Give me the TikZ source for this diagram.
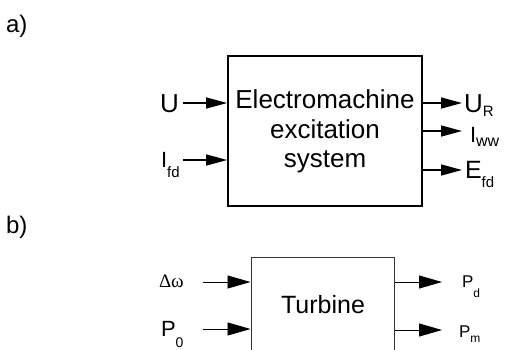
\documentclass[tikz,border=0pt]{standalone}
\usepackage{fontspec}
\setmainfont{Liberation Sans}
\newfontfamily\grfont{Liberation Serif}
\usetikzlibrary{arrows.meta}
\newcommand\lsub[3]{\raisebox{-#1pt}{\fontsize{#2}{#2}\selectfont #3}}
\newcommand\fs[1]{\fontsize{#1}{#1}\selectfont}
\tikzset{
  lbl/.style={anchor=base west, inner sep=0pt, outer sep=0pt},
  ctext/.style={anchor=base, inner sep=0pt, font=\fs{26}},
  boxa/.style={draw=black, line width=1.8pt, inner sep=0pt},
  boxb/.style={draw=black!80, line width=1pt, inner sep=0pt},
  arra/.style={line width=1.4pt, -{Triangle[length=21pt,width=11pt]}},
  arrb/.style={line width=0.9pt, -{Triangle[length=23pt,width=13pt]}},
}
\begin{document}
\begin{tikzpicture}[x=1pt,y=-1pt]
\useasboundingbox (0,0) rectangle (506,349);
\clip (0,0) rectangle (506,349);
% labels a) b)
\node[lbl, font=\fs{24}] (la) at (6,32) {a)};
\node[lbl, font=\fs{24}] (lb) at (6,233) {b)};
% box a
\node[boxa, minimum width=194pt, minimum height=150pt] (A) at (325,131) {};
\node[ctext] (t1) at (325,108) {Electromachine};
\node[ctext] (t2) at (325,138) {excitation};
\node[ctext] (t3) at (325,167) {system};
% inputs a
\node[lbl, font=\fs{26}] (U) at (160,112) {U};
\node[lbl, font=\fs{22}] (Ifd) at (161,167) {I\lsub{10}{15}{fd}};
\coordinate (uS) at (183,103);
\coordinate (iS) at (183,160);
\draw[arra] (uS) -- (A.west |- uS);
\draw[arra] (iS) -- (A.west |- iS);
% outputs a
\coordinate (urE) at (462,103);
\coordinate (iwE) at (462,131);
\coordinate (efE) at (462,170);
\draw[arra] (A.east |- urE) -- (urE);
\draw[arra] (A.east |- iwE) -- (iwE);
\draw[arra] (A.east |- efE) -- (efE);
\node[lbl, font=\fs{26}] (UR) at (464,112) {U\lsub{4}{15}{R}};
\node[lbl, font=\fs{22}] (Iww) at (470,142) {I\lsub{4}{16}{ww}};
\node[lbl, font=\fs{25}] (Efd) at (465,178) {E\lsub{9}{15}{fd}};
% box b
\node[boxb, minimum width=143pt, minimum height=145pt] (B) at (322.5,330) {};
\node[ctext, font=\fs{25}] (tb) at (323,313) {Turbine};
% inputs b
\node[lbl, font=\grfont\fs{19}] (dw) at (159,287) {Δω};
\node[lbl, font=\fs{22}] (P0) at (161,336) {P\lsub{11}{14}{0}};
\coordinate (dwS) at (203,282);
\coordinate (p0S) at (203,329);
\draw[arrb] (dwS) -- (B.west |- dwS);
\draw[arrb] (p0S) -- (B.west |- p0S);
% outputs b
\coordinate (pdE) at (442,282);
\coordinate (pmE) at (442,330);
\draw[arrb] (B.east |- pdE) -- (pdE);
\draw[arrb] (B.east |- pmE) -- (pmE);
\node[lbl, font=\fs{17}] (Pd) at (462,287) {P\lsub{10}{12}{d}};
\node[lbl, font=\fs{17}] (Pm) at (459,337) {P\lsub{5}{12}{m}};
\end{tikzpicture}
\end{document}
